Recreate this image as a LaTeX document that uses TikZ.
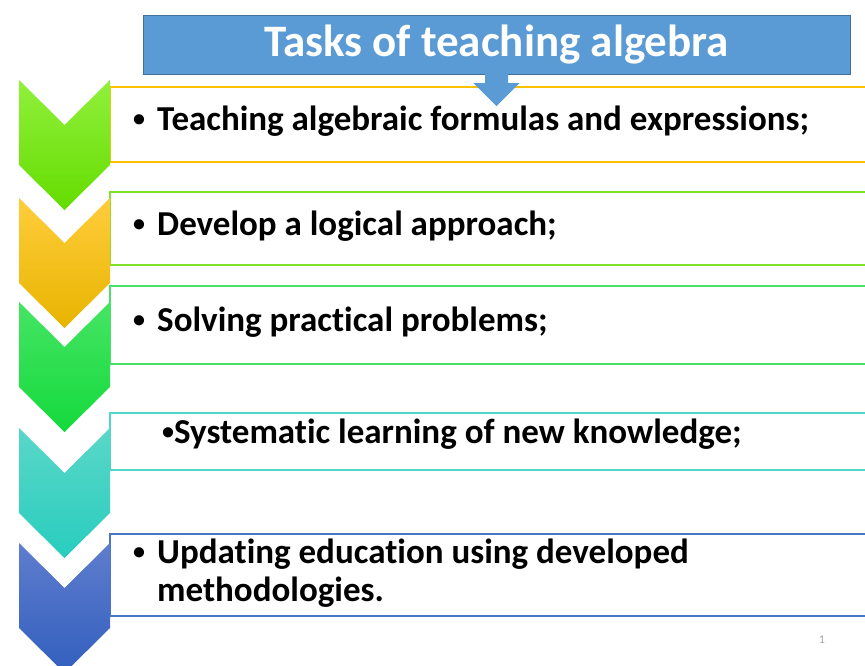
\documentclass[tikz,border=0pt]{standalone}
\usepackage{fontspec}
\setmainfont{Carlito}[Ligatures=NoCommon]
\usetikzlibrary{positioning}

\definecolor{titleblue}{RGB}{91,155,213}
\definecolor{titleedge}{RGB}{65,113,156}
\definecolor{limetop}{RGB}{145,240,60}
\definecolor{limebot}{RGB}{100,220,0}
\definecolor{ambertop}{RGB}{255,205,60}
\definecolor{amberbot}{RGB}{232,180,0}
\definecolor{greentop}{RGB}{70,228,100}
\definecolor{greenbot}{RGB}{20,218,60}
\definecolor{tealtop}{RGB}{90,215,200}
\definecolor{tealbot}{RGB}{40,205,190}
\definecolor{bluetop}{RGB}{95,125,205}
\definecolor{bluebot}{RGB}{50,95,190}
\definecolor{edgeamber}{RGB}{255,192,0}
\definecolor{edgelime}{RGB}{128,224,42}
\definecolor{edgegreen}{RGB}{76,224,104}
\definecolor{edgeteal}{RGB}{79,216,202}
\definecolor{edgeblue}{RGB}{74,120,200}

\newcommand{\taskdot}{\raisebox{3.5pt}{\fontsize{24}{24}\selectfont•}}

\tikzset{
  band/.style={line width=1.5pt},
  task/.style={anchor=west, inner sep=0pt, align=left,
    font=\bfseries\fontsize{35}{38}\selectfont},
}

\begin{document}
\begin{tikzpicture}[x=1pt,y=-1pt]
    \useasboundingbox (0,0) rectangle (865,666);
    \clip (0,0) rectangle (865,666);

    % task bands
    \draw[band,draw=edgeamber] (110,87) rectangle (870,162);
    \draw[band,draw=edgelime] (110,192) rectangle (870,265);
    \draw[band,draw=edgegreen] (110,286) rectangle (870,364);
    \draw[band,draw=edgeteal] (110,413) rectangle (870,470);
    \draw[band,draw=edgeblue] (110,534) rectangle (870,616);

    % chevrons, top to bottom
    \shade[top color=limetop,bottom color=limebot] (19,80) -- ++(45.5,45) -- ++(45.5,-45) -- ++(0,85) -- ++(-45.5,45) -- ++(-45.5,-45) -- cycle;
    \shade[top color=ambertop,bottom color=amberbot] (19,198) -- ++(45.5,45) -- ++(45.5,-45) -- ++(0,85) -- ++(-45.5,45) -- ++(-45.5,-45) -- cycle;
    \shade[top color=greentop,bottom color=greenbot] (19,302) -- ++(45.5,45) -- ++(45.5,-45) -- ++(0,85) -- ++(-45.5,45) -- ++(-45.5,-45) -- cycle;
    \shade[top color=tealtop,bottom color=tealbot] (19,428) -- ++(45.5,45) -- ++(45.5,-45) -- ++(0,85) -- ++(-45.5,45) -- ++(-45.5,-45) -- cycle;
    \shade[top color=bluetop,bottom color=bluebot] (19,543) -- ++(45.5,45) -- ++(45.5,-45) -- ++(0,85) -- ++(-45.5,45) -- ++(-45.5,-45) -- cycle;

    % title with its arrow
    \node[fill=titleblue,draw=titleedge,minimum width=707pt,minimum height=59pt,
      text=white,font=\bfseries\fontsize{45}{50}\selectfont] (title) at (496.5,44.5) {Tasks of teaching algebra};
    \fill[titleblue] ([xshift=-11.5pt,yshift=0.5pt]title.south) -- ++(0,9.5) -- ++(-11.5,0) -- ++(23,23) -- ++(23,-23) -- ++(-11.5,0) -- ++(0,-9.5) -- cycle;

    % task texts
    \node[task] (teach) at (133,121) {\makebox[24pt][l]{\taskdot}Teaching algebraic formulas and expressions;};
    \node[task] (logic) at (133,226) {\makebox[24pt][l]{\taskdot}Develop a logical approach;};
    \node[task] (solve) at (133,322) {\makebox[24pt][l]{\taskdot}Solving practical problems;};
    \node[task] (learn) at (162,434) {\taskdot Systematic learning of new knowledge;};
    \node[task] (update) at (133,573) {\makebox[24pt][l]{\taskdot}Updating education using developed\\\hspace*{24pt}methodologies.};

    % slide number
    \node[text=black!35,font=\fontsize{12}{14}\selectfont] (slideno) at (822,640) {1};
\end{tikzpicture}
\end{document}
